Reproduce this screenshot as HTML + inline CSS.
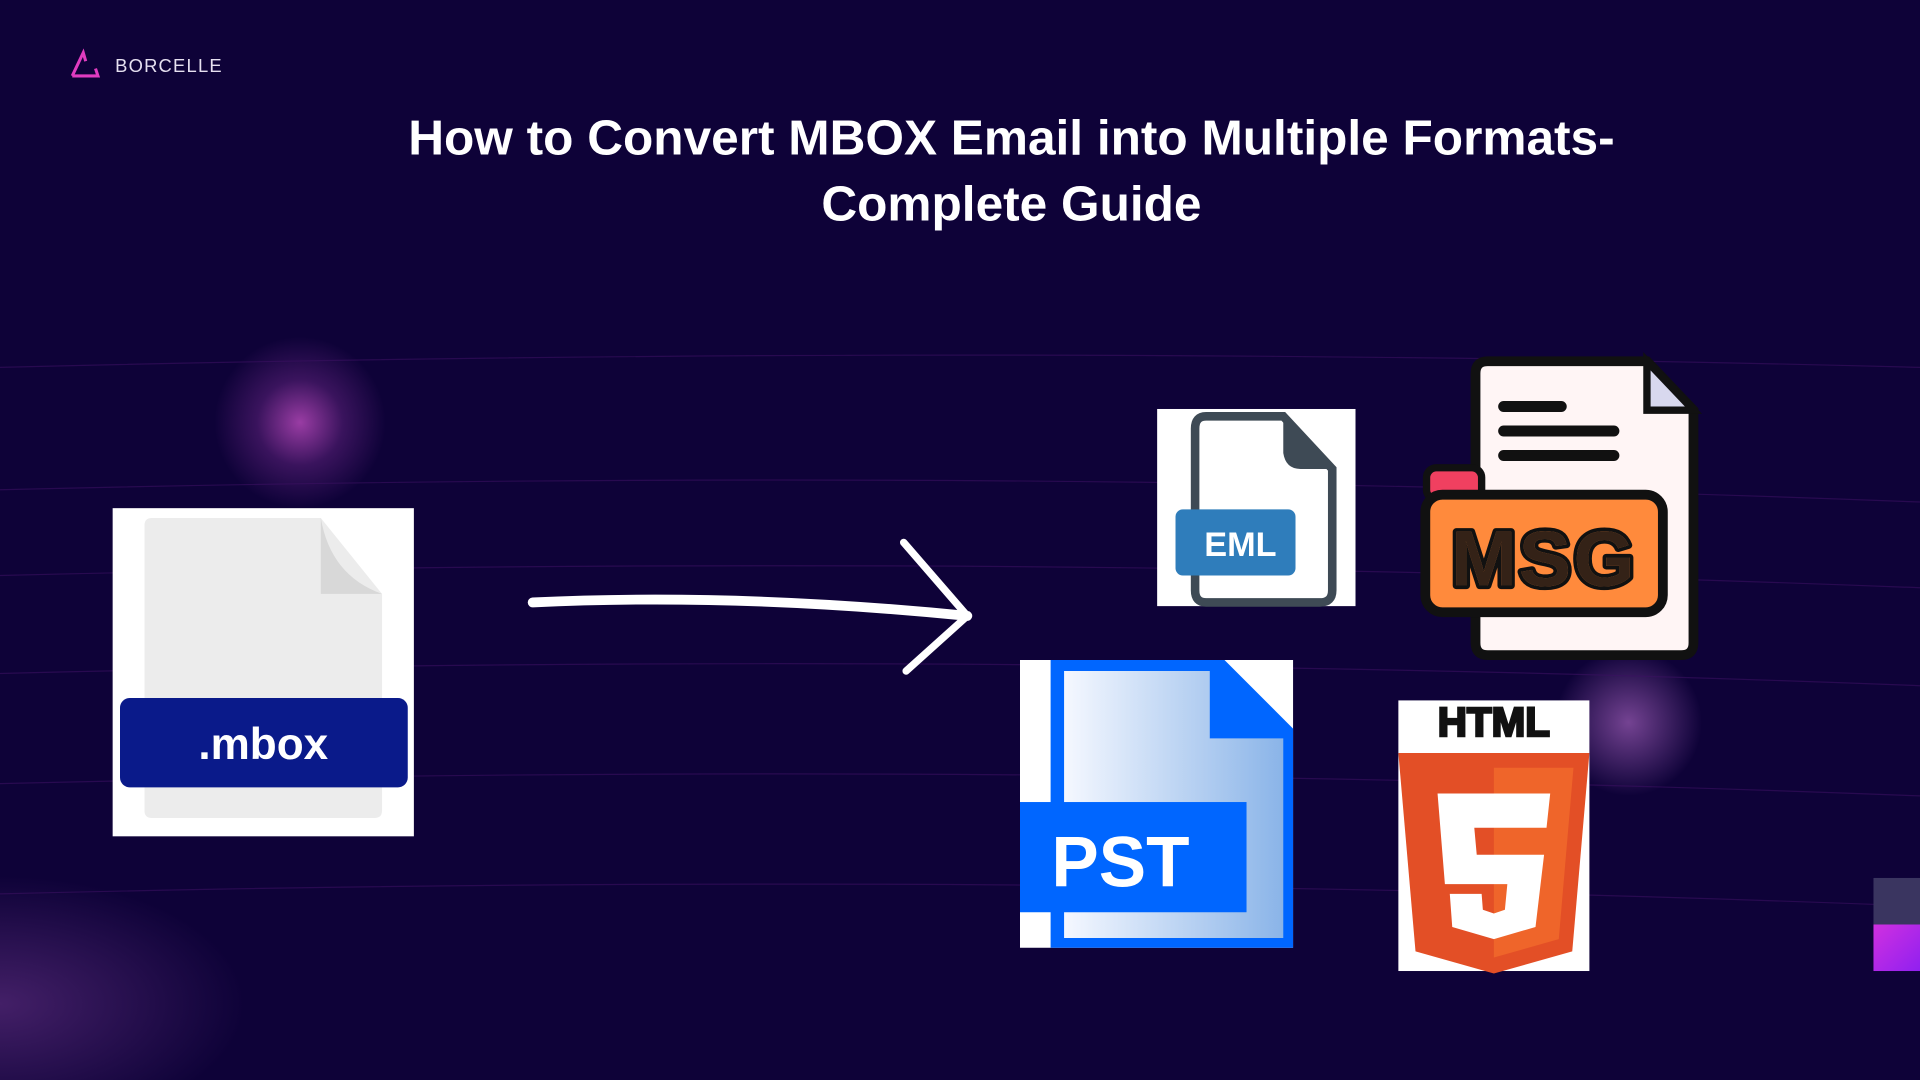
<!DOCTYPE html>
<html><head><meta charset="utf-8"><style>
html,body{margin:0;padding:0;width:1920px;height:1080px;overflow:hidden;background:#0e0238}
#s{position:absolute;left:0;top:0;width:1568px;height:882px;transform:scale(1.22449);transform-origin:0 0;font-family:"Liberation Sans",sans-serif;
background:radial-gradient(circle at 245px 345px,rgba(200,80,200,.75) 0,rgba(160,60,180,.3) 35px,rgba(14,2,56,0) 70px),
radial-gradient(circle at 1330px 590px,rgba(200,120,220,.55) 0,rgba(14,2,56,0) 60px),
radial-gradient(ellipse at 0 820px,rgba(120,60,150,.5) 0,rgba(14,2,56,0) 200px),#0e0238}
.a{position:absolute}
</style></head><body><div id="s">
<svg class="a" style="left:0;top:0" width="1568" height="882">
<g stroke="#3a1060" stroke-width="1" opacity=".6" fill="none">
<path d="M0 400 Q800 380 1568 410"/><path d="M0 470 Q800 450 1568 480"/><path d="M0 550 Q800 530 1568 560"/><path d="M0 640 Q800 620 1568 650"/><path d="M0 730 Q800 710 1568 740"/><path d="M0 300 Q800 280 1568 300"/>
</g>
<path d="M59 62 L68 43 L70 50 M59 62 L80 62 L78 56" stroke="#e03cc0" stroke-width="2.5" fill="none"/>
<text x="94" y="59" fill="#e6e0f0" font-size="15" letter-spacing="1">BORCELLE</text>
<text x="826" y="126" fill="#fff" font-size="40.5" font-weight="bold" text-anchor="middle">How to Convert MBOX Email into Multiple Formats-</text>
<text x="826" y="180" fill="#fff" font-size="40.5" font-weight="bold" text-anchor="middle">Complete Guide</text>
<!-- mbox -->
<rect x="92" y="415" width="246" height="268" fill="#fff"/>
<path d="M124 423 L262 423 L312 485 L312 662 Q312 668 306 668 L124 668 Q118 668 118 662 L118 429 Q118 423 124 423 Z" fill="#ececec"/>
<path d="M262 423 Q270 470 312 485 L262 485 Z" fill="#d8d8d8"/>
<rect x="98" y="570" width="235" height="73" rx="8" fill="#0a1a8a"/>
<text x="215" y="620" fill="#fff" font-size="36" font-weight="bold" text-anchor="middle">.mbox</text>
<!-- arrow -->
<path d="M435 492 Q600 484 790 503" stroke="#fff" stroke-width="8" fill="none" stroke-linecap="round"/>
<path d="M738 443 L790 503 L740 548" stroke="#fff" stroke-width="6" fill="none" stroke-linecap="round" stroke-linejoin="round"/>
<!-- EML -->
<rect x="945" y="334" width="162" height="161" fill="#fff"/>
<path d="M985 340 L1048 340 L1088 383 L1088 482 Q1088 492 1078 492 L985 492 Q976 492 976 482 L976 350 Q976 340 985 340Z" fill="#fff" stroke="#3e4a55" stroke-width="7"/>
<path d="M1048 340 L1048 370 Q1050 383 1062 383 L1088 383Z" fill="#3e4a55"/>
<rect x="960" y="416" width="98" height="54" rx="6" fill="#2f7dbb"/>
<text x="1013" y="454" fill="#fff" font-size="28" font-weight="bold" text-anchor="middle">EML</text>
<!-- MSG -->
<path d="M1215 295 L1345 295 L1383 335 L1383 525 Q1383 535 1373 535 L1215 535 Q1205 535 1205 525 L1205 305 Q1205 295 1215 295Z" fill="#fff5f5" stroke="#111" stroke-width="8"/>
<path d="M1345 295 L1345 335 L1383 335Z" fill="#d8d8ee" stroke="#111" stroke-width="6"/>
<path d="M1228 332 H1275 M1228 352 H1318 M1228 372 H1318" stroke="#111" stroke-width="9" stroke-linecap="round"/>
<rect x="1165" y="382" width="45" height="26" rx="8" fill="#f04060" stroke="#111" stroke-width="6"/>
<rect x="1164" y="404" width="194" height="96" rx="14" fill="#ff8a3c" stroke="#111" stroke-width="8"/>
<text x="1261" y="478" fill="#ff8a3c" font-size="64" font-weight="bold" text-anchor="middle" stroke="#111" stroke-width="6" stroke-linejoin="round" paint-order="stroke" letter-spacing="2">MSG</text>
<text x="1261" y="478" fill="#111" font-size="64" font-weight="bold" text-anchor="middle" letter-spacing="2" opacity="0.85">MSG</text>
<!-- PST -->
<rect x="833" y="539" width="223" height="235" fill="#fff"/>
<defs><linearGradient id="g" x1="0" x2="1"><stop offset="0" stop-color="#f5f8ff"/><stop offset="1" stop-color="#8ab4e8"/></linearGradient>
<linearGradient id="m" x1="0" x2="1" y1="0" y2="1"><stop offset="0" stop-color="#d030e0"/><stop offset="1" stop-color="#9020f0"/></linearGradient></defs>
<path d="M858 539 L1000 539 L1056 595 L1056 774 L858 774Z" fill="#0066ff"/>
<path d="M869 548 L988 548 L988 603 L1048 603 L1048 766 L869 766Z" fill="url(#g)"/>
<rect x="833" y="655" width="185" height="90" fill="#0066ff"/>
<text x="915" y="724" fill="#fff" font-size="58" font-weight="bold" text-anchor="middle">PST</text>
<!-- HTML -->
<rect x="1142" y="572" width="156" height="221" fill="#fff"/>
<text x="1220" y="601" fill="#111" font-size="33" font-weight="bold" text-anchor="middle" stroke="#111" stroke-width="2">HTML</text>
<path d="M1142 615 L1298 615 L1284 777 L1220 795 L1156 777Z" fill="#e34f26"/>
<path d="M1220 627 L1285 627 L1273 767 L1220 782Z" fill="#ef652a"/>
<path d="M1174 648 L1266 648 L1263 676 L1204 676 L1206 698 L1261 698 L1254 757 L1220 767 L1186 757 L1184 730 L1210 730 L1211 743 L1220 746 L1229 743 L1231 722 L1180 722Z" fill="#fff"/>
<!-- corner squares -->
<rect x="1530" y="717" width="38" height="38" fill="#3a3560"/>
<rect x="1530" y="755" width="38" height="38" fill="url(#m)"/>
</svg>
</div></body></html>
